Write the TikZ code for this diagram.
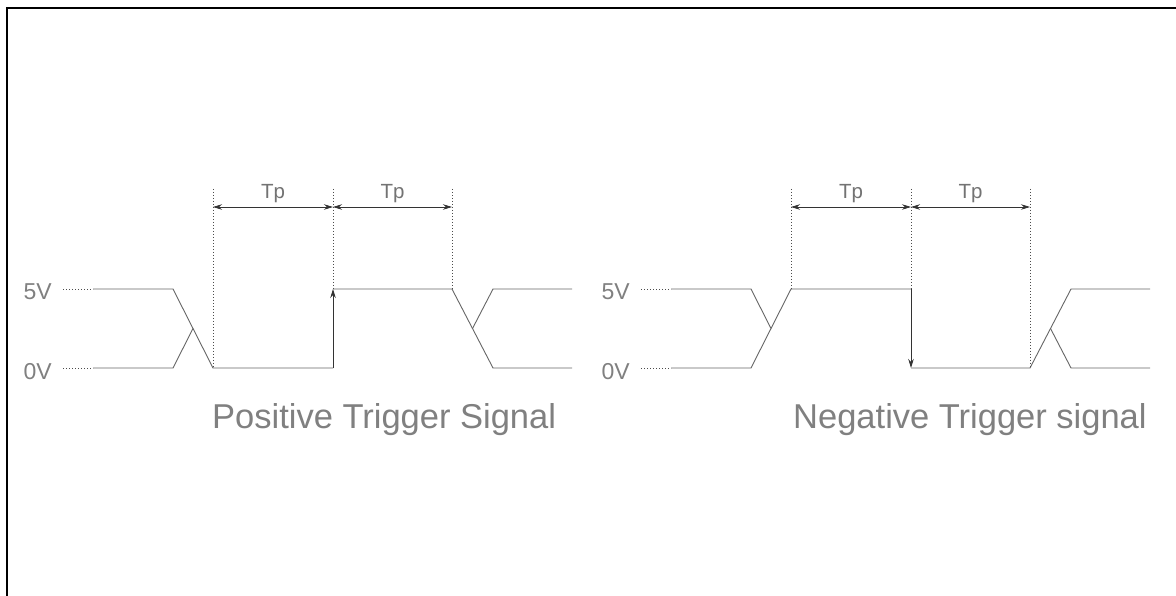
\documentclass[tikz,border=0pt]{standalone}
\usepackage{fontspec}
\setmainfont{Liberation Sans}
\usetikzlibrary{arrows.meta}
\begin{document}
\begin{tikzpicture}[x=1pt,y=-1pt,
  sig/.style={black!60, line width=0.9pt},
  dots/.style={black!70, line width=0.6pt, dash pattern=on 0.8pt off 2.2pt},
  tipA/.style={-{Stealth[length=9pt,width=5.5pt]}},
  dim/.style={black!80, line width=0.8pt, {Stealth[length=9pt,width=5.5pt]}-{Stealth[length=9pt,width=5.5pt]}},
  lvl/.style={text=black!50, font=\fontsize{23}{23}\selectfont, inner sep=0pt, anchor=base east},
  tp/.style={text=black!55, font=\fontsize{20.5}{21}\selectfont, inner sep=0pt, anchor=base},
  title/.style={text=black!50, font=\fontsize{34.5}{35}\selectfont, inner sep=0pt, anchor=base west}]
\useasboundingbox (0,0) rectangle (1176,596);
\fill[white] (0,0) rectangle (1176,596);
\draw[line width=2.6pt] (7,597) -- (7,8) -- (1177,8);

% ---------- Positive trigger ----------
\node[lvl] (p5) at (52,300) {5V};
\node[lvl] (p0) at (52,379) {0V};
\draw[dots] (63,289) -- (93,289);
\draw[dots] (63,368) -- (93,368);
\draw[sig] (93,289) -- (173,289) -- (213,368) -- (333,368);
\draw[sig] (93,368) -- (173,368) -- (193,328.5);
\draw[black!80, line width=0.9pt, tipA] (333,368) -- (333,289);
\draw[sig] (333,289) -- (452,289) -- (493,368) -- (572,368);
\draw[sig] (472.5,328.5) -- (493,289) -- (572,289);
\draw[dots] (213,189) -- (213,368);
\draw[dots] (333,189) -- (333,289);
\draw[dots] (452,189) -- (452,289);
\draw[dim] (213,207) -- (333,207);
\draw[dim] (333,207) -- (452,207);
\node[tp] (pt1) at (273,199) {Tp};
\node[tp] (pt2) at (392.5,199) {Tp};
\node[title] (ptitle) at (212,428) {Positive Trigger Signal};

% ---------- Negative trigger ----------
\node[lvl] (n5) at (630,300) {5V};
\node[lvl] (n0) at (630,379) {0V};
\draw[dots] (641,289) -- (671,289);
\draw[dots] (641,368) -- (671,368);
\draw[sig] (671,289) -- (751,289) -- (771,328.5);
\draw[sig] (671,368) -- (751,368) -- (791,289) -- (911,289);
\draw[black!80, line width=0.9pt, tipA] (911,289) -- (911,368);
\draw[sig] (911,368) -- (1030,368) -- (1071,289) -- (1150,289);
\draw[sig] (1050.5,328.5) -- (1071,368) -- (1150,368);
\draw[dots] (791,189) -- (791,289);
\draw[dots] (911,189) -- (911,289);
\draw[dots] (1030,189) -- (1030,368);
\draw[dim] (791,207) -- (911,207);
\draw[dim] (911,207) -- (1030,207);
\node[tp] (nt1) at (851,199) {Tp};
\node[tp] (nt2) at (970.5,199) {Tp};
\node[title] (ntitle) at (793,428) {Negative Trigger signal};
\end{tikzpicture}
\end{document}
